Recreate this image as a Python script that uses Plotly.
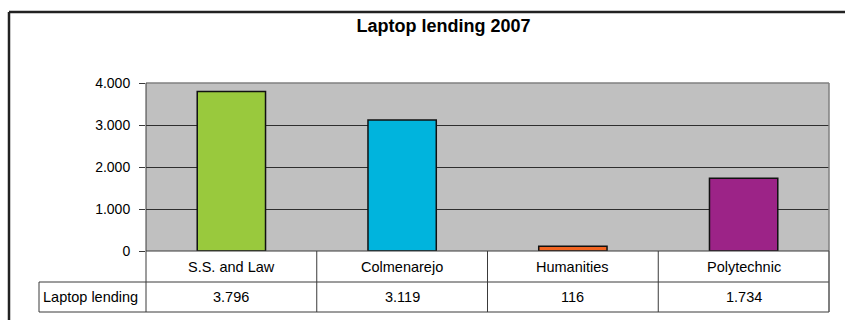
import plotly.graph_objects as go

# Chart data
title = "Laptop lending 2007"
series_name = "Laptop lending"
categories = ["S.S. and Law", "Colmenarejo", "Humanities", "Polytechnic"]
values = [3796, 3119, 116, 1734]
colors = ["#99C93D", "#00B4DD", "#F26522", "#9C2387"]
y_ticks = [0, 1000, 2000, 3000, 4000]

W, H = 845, 320
L, R, T, B = 146, 16, 83, 69
pw, ph = W - L - R, H - T - B
TABLE_FONT = 14.5


def px(x):
    return (x - L) / pw


def py(y):
    return (H - B - y) / ph


def fmt(v):
    return f"{v:,}".replace(",", ".")


fig = go.Figure(
    go.Bar(
        x=categories,
        y=values,
        width=0.4,
        marker=dict(color=colors, line=dict(color="#111111", width=1.5)),
        showlegend=False,
        hoverinfo="x+y",
    )
)

line_col = "#3a3a3a"
shapes = []
# outer frame
shapes.append(dict(type="line", xref="paper", yref="paper", x0=px(9), x1=px(860),
                   y0=py(12), y1=py(12), line=dict(color="#222222", width=2.5)))
shapes.append(dict(type="line", xref="paper", yref="paper", x0=px(9), x1=px(9),
                   y0=py(12), y1=py(330), line=dict(color="#222222", width=2.5)))
# plot area border (top and right)
shapes.append(dict(type="line", xref="paper", yref="paper", x0=0, x1=1, y0=1, y1=1,
                   line=dict(color="#808080", width=1.5)))
shapes.append(dict(type="line", xref="paper", yref="paper", x0=1, x1=1, y0=0, y1=1,
                   line=dict(color="#808080", width=1.5)))
# left axis line, running down through the table
shapes.append(dict(type="line", xref="paper", yref="paper", x0=0, x1=0, y0=py(312), y1=1,
                   line=dict(color=line_col, width=1)))
# table rows
row_top, row_mid, row_bot = 251, 282, 312
shapes.append(dict(type="line", xref="paper", yref="paper", x0=0, x1=1,
                   y0=py(row_top), y1=py(row_top), line=dict(color=line_col, width=1)))
shapes.append(dict(type="line", xref="paper", yref="paper", x0=px(39), x1=1,
                   y0=py(row_mid), y1=py(row_mid), line=dict(color=line_col, width=1)))
shapes.append(dict(type="line", xref="paper", yref="paper", x0=px(39), x1=1,
                   y0=py(row_bot), y1=py(row_bot), line=dict(color=line_col, width=1)))
shapes.append(dict(type="line", xref="paper", yref="paper", x0=px(39), x1=px(39),
                   y0=py(row_bot), y1=py(row_mid), line=dict(color=line_col, width=1)))
n = len(categories)
for i in range(1, n + 1):
    shapes.append(dict(type="line", xref="x domain", yref="paper", x0=i / n, x1=i / n,
                       y0=py(row_bot), y1=py(row_top),
                       line=dict(color="#555555" if i == n else line_col, width=1.5 if i == n else 1)))

annotations = []
for i, (c, v) in enumerate(zip(categories, values)):
    annotations.append(dict(x=c, xref="x", y=py((row_top + row_mid) / 2), yref="paper",
                            text=c, showarrow=False, xanchor="center", yanchor="middle",
                            font=dict(size=TABLE_FONT, color="#000000")))
    annotations.append(dict(x=c, xref="x", y=py((row_mid + row_bot) / 2), yref="paper",
                            text=fmt(v), showarrow=False, xanchor="center", yanchor="middle",
                            font=dict(size=TABLE_FONT, color="#000000")))
annotations.append(dict(x=px(41), xref="paper", y=py((row_mid + row_bot) / 2), yref="paper",
                        text=series_name, showarrow=False, xanchor="left", yanchor="middle",
                        font=dict(size=TABLE_FONT, color="#000000")))

fig.update_layout(
    width=W, height=H,
    margin=dict(l=L, r=R, t=T, b=B),
    paper_bgcolor="#FFFFFF",
    plot_bgcolor="#C0C0C0",
    separators=",.",
    font=dict(family="Liberation Sans, Arial, sans-serif", size=14, color="#000000"),
    title=dict(text=f"<b>{title}</b>", x=443.5 / W, xref="container", xanchor="center",
               y=(H - 26) / H, yref="container", yanchor="middle",
               font=dict(size=18, color="#000000")),
    xaxis=dict(showticklabels=False, showgrid=False, ticks="", zeroline=False,
               range=[-0.5, n - 0.5], fixedrange=True),
    yaxis=dict(range=[0, 4000], tickvals=y_ticks, tickformat=",d",
               showgrid=True, gridcolor="#2e2e2e", gridwidth=1,
               ticks="outside", ticklen=6, tickcolor=line_col,
               ticklabelstandoff=6,
               zeroline=False, showline=False,
               tickfont=dict(size=14, color="#000000"), fixedrange=True),
    shapes=shapes,
    annotations=annotations,
    bargap=0.6,
)

fig.write_html("out.html")
